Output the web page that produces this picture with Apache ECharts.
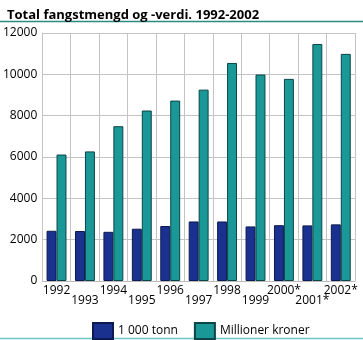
<!DOCTYPE html>
<html><head><meta charset="utf-8">
<script src="https://cdn.jsdelivr.net/npm/echarts@6/dist/echarts.min.js"></script>
<style>html,body{margin:0;padding:0;background:#fff}#c{width:363px;height:340px}</style>
</head><body><div id="c"></div>
<script>
const titleText = 'Total fangstmengd og -verdi. 1992-2002';
const categories = ['1992','1993','1994','1995','1996','1997','1998','1999','2000*','2001*','2002*'];
const tonn = [2430, 2420, 2380, 2530, 2660, 2880, 2880, 2640, 2700, 2690, 2740];
const kroner = [6120, 6270, 7490, 8250, 8730, 9260, 10550, 9990, 9780, 11470, 10990];
const seriesNames = ['1 000 tonn', 'Millioner kroner'];
const yTicks = {min: 0, max: 12000, interval: 2000};

const FONT = 'Open Sans';
const chart = echarts.init(document.getElementById('c'), null, {renderer: 'canvas'});
chart.setOption({
  animation: false,
  textStyle: {fontFamily: FONT},
  title: {text: titleText, left: 2, top: 4, textStyle: {fontFamily: FONT, fontSize: 13, fontWeight: 'bold', color: '#000'}},
  graphic: [
    {type: 'line', shape: {x1: 0, y1: 21.5, x2: 363, y2: 21.5}, style: {stroke: '#2a8c84', lineWidth: 1.5}},
    {type: 'line', shape: {x1: 0, y1: 338.5, x2: 363, y2: 338.5}, style: {stroke: '#6cc8c6', lineWidth: 1.5}}
  ],
  grid: {left: 41.5, right: 8, top: 33, bottom: 59, containLabel: false},
  legend: {
    left: 87, top: 317, itemWidth: 20, itemHeight: 16, itemGap: 16, icon: 'rect',
    textStyle: {fontFamily: FONT, fontSize: 12, color: '#000'},
    data: seriesNames
  },
  xAxis: {
    type: 'category', data: categories,
    axisLine: {show: true, lineStyle: {color: '#bbbbbb'}},
    axisTick: {show: false},
    splitLine: {show: true, interval: 0, lineStyle: {color: '#c4c4c4', width: 1}},
    axisLabel: {
      fontFamily: FONT, fontSize: 12, color: '#000', margin: 5, lineHeight: 10,
      interval: 0,
      formatter: (v, i) => (i % 2 === 1 ? '\n' + v : v)
    }
  },
  yAxis: {
    type: 'value', min: yTicks.min, max: yTicks.max, interval: yTicks.interval,
    axisLine: {show: true, lineStyle: {color: '#c4c4c4'}},
    axisTick: {show: false},
    splitLine: {show: true, lineStyle: {color: '#c4c4c4', width: 1}},
    axisLabel: {fontFamily: FONT, fontSize: 12, color: '#000', margin: 5, formatter: v => String(v)}
  },
  series: [
    {name: seriesNames[0], type: 'bar', data: tonn, barGap: '0%', barCategoryGap: '30%',
     itemStyle: {color: '#1a318f', borderColor: '#0c1a50', borderWidth: 1}},
    {name: seriesNames[1], type: 'bar', data: kroner, barGap: '0%', barCategoryGap: '30%',
     itemStyle: {color: '#1a9898', borderColor: '#0b4545', borderWidth: 1}}
  ]
});
</script></body></html>
